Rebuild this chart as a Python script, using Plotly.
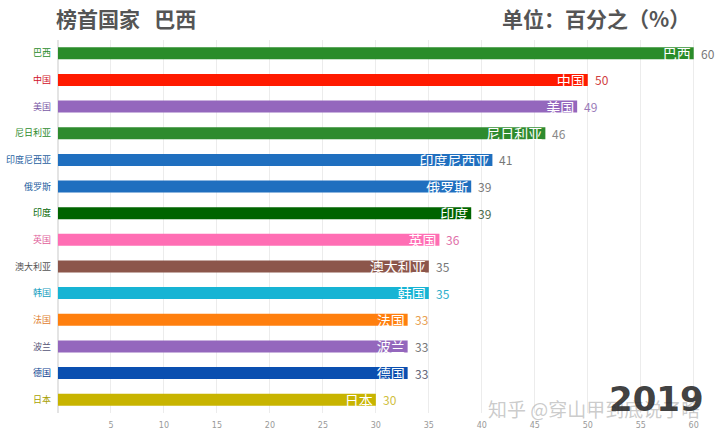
import plotly.graph_objects as go

countries = ["巴西", "中国", "美国", "尼日利亚", "印度尼西亚", "俄罗斯", "印度",
             "英国", "澳大利亚", "韩国", "法国", "波兰", "德国", "日本"]
values = [60, 50, 49, 46, 41, 39, 39, 36, 35, 35, 33, 33, 33, 30]
bar_colors = ["#2a8c2a", "#ff1a00", "#9467bd", "#2e8b2e", "#1f6fbf", "#1f6fbf", "#006400",
              "#ff6eb4", "#8c564b", "#17b4d4", "#ff7f0e", "#9467bd", "#0a4fb0", "#c8b400"]
label_colors = ["#2a8c2a", "#d0102a", "#7a5aa6", "#2e8b2e", "#1f5f9f", "#1f5f9f", "#006400",
                "#e0609a", "#555555", "#17a0c0", "#e08030", "#555577", "#0a3f90", "#a8a000"]
value_colors = ["#777777", "#d04040", "#9a7ab8", "#888888", "#777777", "#777777", "#4a6a4a",
                "#e070a8", "#777777", "#30b0cc", "#e8a050", "#777777", "#666677", "#d0c040"]
x_ticks = [5, 10, 15, 20, 25, 30, 35, 40, 45, 50, 55, 60]
title_text = "榜首国家   巴西"
unit_text = "单位：百分之（%）"
year_text = "2019"
watermark = "知乎 @穿山甲到底说了啥"

CJK = "Noto Sans CJK SC"

fig = go.Figure()
fig.add_trace(go.Bar(
    x=values, y=countries, orientation="h",
    marker=dict(color=bar_colors, line=dict(width=0)),
    text=countries, textposition="inside", insidetextanchor="end",
    constraintext="none", cliponaxis=False,
    textfont=dict(family=CJK, size=14, color="white"),
    hoverinfo="skip",
))

annotations = []
for c, v, col in zip(countries, values, value_colors):
    annotations.append(dict(x=v, y=c, xref="x", yref="y", text=str(v), showarrow=False,
                            xanchor="left", xshift=5,
                            font=dict(family=CJK, size=12, color=col)))

annotations += [
    dict(x=54, y=18, xanchor="left", yanchor="middle",
         text="<b>" + title_text + "</b>", showarrow=False,
         font=dict(family=CJK, size=21, color="#555555")),
    dict(x=692, y=18, xanchor="right", yanchor="middle",
         text="<b>" + unit_text + "</b>", showarrow=False,
         font=dict(family=CJK, size=21, color="#555555")),
    dict(x=702, y=408, xanchor="right", yanchor="middle",
         text=watermark, showarrow=False,
         font=dict(family=CJK, size=19, color="rgba(160,160,160,0.55)")),
    dict(x=706, y=399, xanchor="right", yanchor="middle",
         text="<b>" + year_text + "</b>", showarrow=False,
         font=dict(family="DejaVu Sans", size=34, color="rgba(40,40,40,0.9)")),
]
W, H = 720, 437
ml, mr, mt, mb = 58, 21, 40, 24
pw, ph = W - ml - mr, H - mt - mb
for a in annotations[len(countries):]:
    a["xref"] = "paper"
    a["yref"] = "paper"
    px, py = a["x"], a["y"]
    a["x"] = (px - ml) / pw
    a["y"] = (H - mb - py) / ph

fig.update_layout(
    width=W, height=H,
    margin=dict(l=ml, r=mr, t=mt, b=mb, autoexpand=False),
    paper_bgcolor="white", plot_bgcolor="white",
    bargap=0.55, showlegend=False,
    annotations=annotations,
    xaxis=dict(range=[0, 60.5], tickvals=x_ticks, showgrid=True, gridcolor="#ececec",
               gridwidth=1, zeroline=True, zerolinecolor="#e4e4e4", showline=False,
               ticks="", ticklabelstandoff=6, automargin=False,
               tickfont=dict(family="DejaVu Sans", size=8, color="#999999")),
    yaxis=dict(autorange="reversed", tickmode="array", tickvals=countries,
               ticktext=[f"<span style='color:{col}'>{c}</span>" for c, col in zip(countries, label_colors)],
               ticks="", ticklabelstandoff=6, showgrid=False, automargin=False,
               tickfont=dict(family=CJK, size=9)),
)

fig.write_html("out.html")
